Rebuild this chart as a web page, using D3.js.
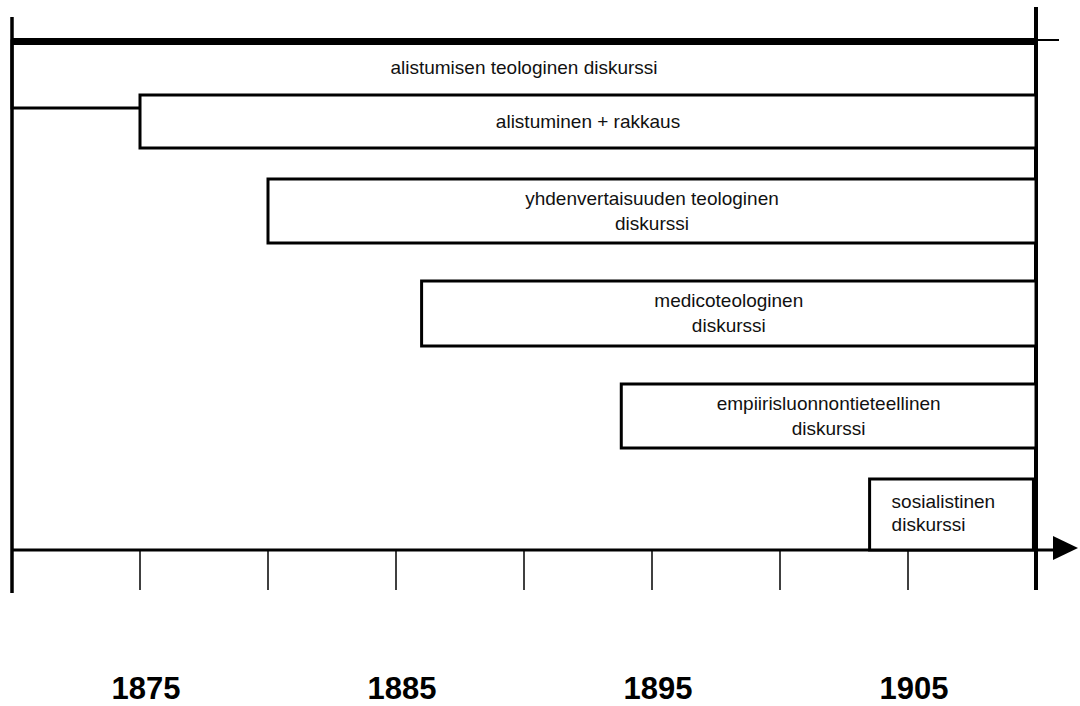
<!DOCTYPE html>
<html>
<head>
<meta charset="utf-8">
<script src="https://cdn.jsdelivr.net/npm/d3@7"></script>
<style>
  body { margin: 0; background: #fff; }
  svg { display: block; font-family: "Liberation Sans", Arial, sans-serif; }
</style>
</head>
<body>
<script>
"use strict";

// discourses: label lines, start year, end year
var discourses = [
  ["alistumisen teologinen diskurssi"],
  ["alistuminen + rakkaus"],
  ["yhdenvertaisuuden teologinen", "diskurssi"],
  ["medicoteologinen", "diskurssi"],
  ["empiirisluonnontieteellinen", "diskurssi"],
  ["sosialistinen", "diskurssi"]
];
var startYears = [1870, 1875, 1880, 1886, 1893.8, 1903.5];
var endYears = [1910, 1910, 1910, 1910, 1910, 1909.9];
var tickYears = [1870, 1875, 1880, 1885, 1890, 1895, 1900, 1905, 1910];
var labelYears = [1875, 1885, 1895, 1905];

var width = 1080, height = 706;

var svg = d3.select('body').append('svg')
  .attr('width', width)
  .attr('height', height);

var x = d3.scaleLinear().domain([1870, 1910]).range([12, 1036]);

var rows = d3.range(discourses.length);
var rowTop = d3.scaleOrdinal().domain(rows).range([41, 95, 179, 281, 384, 479]);
var rowBottom = d3.scaleOrdinal().domain(rows).range([108, 148, 243, 346, 448, 550]);

var axisY = 550;

// frame verticals
svg.append('line')
  .attr('x1', x(1870)).attr('x2', x(1870))
  .attr('y1', 17).attr('y2', 593)
  .attr('stroke', '#000').attr('stroke-width', 3.5);

svg.append('line')
  .attr('x1', x(1910)).attr('x2', x(1910))
  .attr('y1', 7).attr('y2', 590)
  .attr('stroke', '#000').attr('stroke-width', 4);

// time axis with arrow
svg.append('line')
  .attr('x1', x(1870)).attr('x2', 1056)
  .attr('y1', axisY).attr('y2', axisY)
  .attr('stroke', '#000').attr('stroke-width', 3);

svg.append('path')
  .attr('d', d3.line()([[1053, 536], [1078, 548], [1053, 560]]) + 'Z')
  .attr('fill', '#000');

svg.selectAll('.tick')
  .data(tickYears)
  .enter().append('line')
  .attr('class', 'tick')
  .attr('x1', function(d) { return x(d); })
  .attr('x2', function(d) { return x(d); })
  .attr('y1', axisY)
  .attr('y2', 590)
  .attr('stroke', '#000')
  .attr('stroke-width', 1.5);

svg.selectAll('.year')
  .data(labelYears)
  .enter().append('text')
  .attr('class', 'year')
  .attr('x', function(d) { return x(d) + 6; })
  .attr('y', 699)
  .attr('text-anchor', 'middle')
  .attr('font-size', 31)
  .attr('font-weight', 'bold')
  .text(function(d) { return d; });

// discourse bars
var bars = svg.selectAll('.bar')
  .data(rows)
  .enter().append('g')
  .attr('class', 'bar');

bars.append('rect')
  .attr('x', function(i) { return x(startYears[i]); })
  .attr('y', function(i) { return rowTop(i); })
  .attr('width', function(i) { return x(endYears[i]) - x(startYears[i]); })
  .attr('height', function(i) { return rowBottom(i) - rowTop(i); })
  .attr('fill', function(i) { return i == 0 ? 'none' : '#fff'; })
  .attr('stroke', '#000')
  .attr('stroke-width', 3);

// heavy top rule of the first bar
svg.append('line')
  .attr('x1', x(1870)).attr('x2', 1059)
  .attr('y1', 40).attr('y2', 40)
  .attr('stroke', '#000').attr('stroke-width', 2);
svg.append('line')
  .attr('x1', x(1870)).attr('x2', x(1910))
  .attr('y1', 41.5).attr('y2', 41.5)
  .attr('stroke', '#000').attr('stroke-width', 7);

function textMid(i) {
  var bottom = i + 1 < rows.length ? Math.min(rowBottom(i), rowTop(i + 1)) : rowBottom(i);
  return (rowTop(i) + bottom) / 2;
}

bars.each(function(i) {
  var g = d3.select(this);
  var lines = discourses[i];
  var last = i == rows.length - 1;
  var tx = last ? x(startYears[i]) + 22 : (x(startYears[i]) + x(endYears[i])) / 2;
  var y0 = textMid(i) + 6 - (lines.length - 1) * 12.5;
  if (last) y0 = textMid(i) - 7;
  g.selectAll('text')
    .data(lines)
    .enter().append('text')
    .attr('x', tx)
    .attr('y', function(d, k) { return y0 + k * (last ? 23 : 25); })
    .attr('text-anchor', last ? 'start' : 'middle')
    .attr('font-size', 19)
    .attr('fill', '#111')
    .text(function(d) { return d; });
});
</script>
</body>
</html>
